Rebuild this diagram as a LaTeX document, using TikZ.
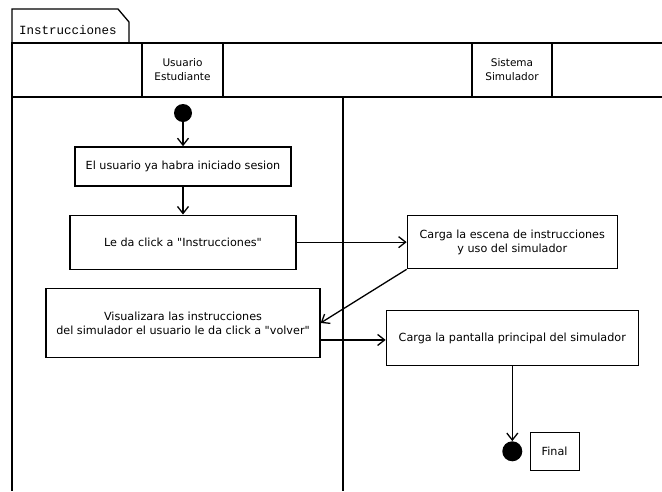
\documentclass[tikz,border=0pt]{standalone}
\usepackage{fontspec}
\setmainfont{DejaVu Sans}[Ligatures=TeXOff]
\newfontfamily\tabfont{Liberation Mono}
\usetikzlibrary{arrows.meta,positioning}

\begin{document}
\begin{tikzpicture}[x=1pt,y=-1pt,
    act/.style={rectangle,draw,line width=1.3pt,font=\fontsize{11.2}{14}\selectfont,
                align=center,inner sep=0pt},
    lanehead/.style={font=\fontsize{10.5}{14}\selectfont,align=center},
    dot/.style={circle,fill=black,inner sep=0pt},
    frame/.style={line width=1.3pt},
    ar/.style={-{Straight Barb[length=7pt,width=11pt]},line width=1.3pt}
  ]
  \useasboundingbox (0,0) rectangle (662,491);

  % frame, tab and lanes
  \draw[frame] (12,43) -- (12,9) -- (118,9) -- (129,22) -- (129,43);
  \node[font=\tabfont\fontsize{12.5}{12.5}\selectfont,anchor=west,inner sep=0pt] (tab) at (19,30) {Instrucciones};
  \draw[frame] (662,43) -- (12,43) -- (12,491);
  \draw[frame] (12,97) -- (662,97);
  \draw[frame] (142,43) -- (142,97);
  \draw[frame] (223,43) -- (223,97);
  \draw[frame] (472,43) -- (472,97);
  \draw[frame] (552,43) -- (552,97);
  \draw[frame] (343,97) -- (343,491);
  \node[lanehead] (user) at (182.5,70) {Usuario\\Estudiante};
  \node[lanehead] (sys) at (512,70) {Sistema\\Simulador};

  % activities
  \node[dot,minimum size=18pt] (start) at (183,113) {};
  \node[act,minimum width=216pt,minimum height=39pt,below=24pt of start] (a1) {El usuario ya habra iniciado sesion};
  \node[act,minimum width=226pt,minimum height=54pt,below=28pt of a1] (a2) {Le da click a "Instrucciones"};
  \node[act,minimum width=210pt,minimum height=53pt,right=110pt of a2] (a3) {Carga la escena de instrucciones\\y uso del simulador};
  \node[act,minimum width=274pt,minimum height=69pt,below=18pt of a2] (a4) {Visualizara las instrucciones\\del simulador el usuario le da click a "volver"};
  \node[act,minimum width=252pt,minimum height=55pt,right=65pt of a4,yshift=-15pt] (a5) {Carga la pantalla principal del simulador};
  \node[dot,minimum size=20pt,below=75pt of a5] (stop) {};
  \node[act,minimum width=49pt,minimum height=38pt,right=7pt of stop] (flabel) {Final};

  \draw[ar] (start) -- (a1);
  \draw[ar] (a1) -- (a2);
  \draw[ar] (a2.east) -- (a3.west);
  \draw[ar] (a3.south west) -- (a4.east);
  \draw[ar] ([yshift=-17pt]a4.east) -- ([yshift=-17pt]a4.east -| a5.west);
  \draw[ar] (a5) -- (stop);
\end{tikzpicture}
\end{document}
